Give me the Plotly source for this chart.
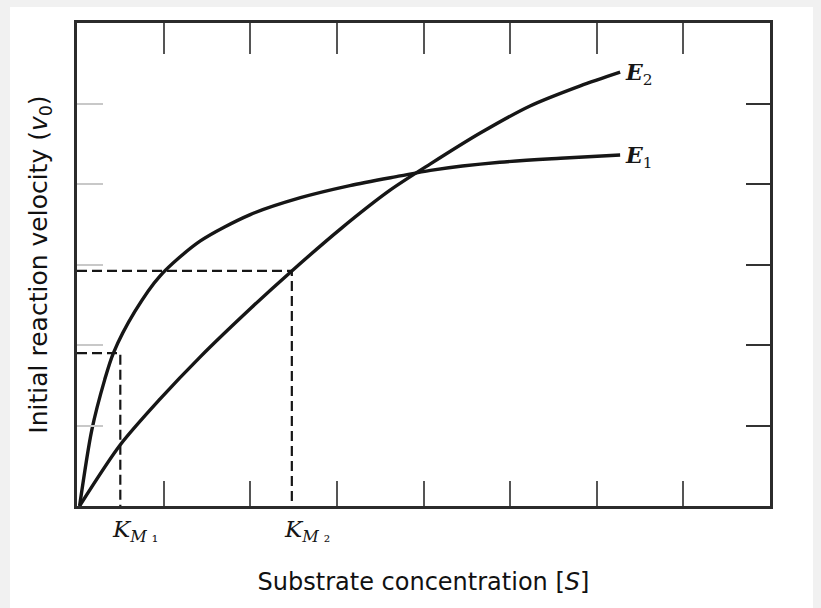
import plotly.graph_objects as go

# Substrate concentration [S] (arbitrary units) and velocities
s_e1 = [0.03, 0.17, 0.32, 0.42, 0.67, 0.96, 1.42, 2.0, 2.58, 3.15, 3.73, 4.08, 4.88, 5.58, 6.27]
v_e1 = [0.0, 0.94, 1.57, 1.90, 2.42, 2.86, 3.29, 3.62, 3.83, 3.98, 4.10, 4.17, 4.27, 4.32, 4.36]

s_e2 = [0.03, 0.50, 0.96, 1.42, 2.0, 2.48, 3.04, 3.61, 4.08, 4.65, 5.23, 5.81, 6.27]
v_e2 = [0.0, 0.76, 1.33, 1.85, 2.45, 2.92, 3.44, 3.92, 4.25, 4.63, 4.97, 5.22, 5.39]

km_values = [0.50, 2.48]
half_v = [1.90, 2.92]
km_labels = ["<i>K</i><sub><i>M</i> ₁</sub>", "<i>K</i><sub><i>M</i> ₂</sub>"]
curve_labels = ["<b><i>E</i></b><sub>1</sub>", "<b><i>E</i></b><sub>2</sub>"]

x_ticks = [1, 2, 3, 4, 5, 6, 7]
y_ticks = [1, 2, 3, 4, 5]
x_range = [0, 8]
y_range = [0, 6]

ink = "#161616"
fig = go.Figure()

# dashed guide lines
for km, hv in zip(km_values, half_v):
    fig.add_trace(go.Scatter(x=[0, km, km], y=[hv, hv, 0], mode="lines",
                             line=dict(color=ink, width=2.2, dash="10px,5px"),
                             hoverinfo="skip", showlegend=False))

fig.add_trace(go.Scatter(x=s_e1, y=v_e1, mode="lines",
                         line=dict(color=ink, width=3.4, shape="spline", smoothing=0.8),
                         showlegend=False))
fig.add_trace(go.Scatter(x=s_e2, y=v_e2, mode="lines",
                         line=dict(color=ink, width=3.4, shape="spline", smoothing=0.8),
                         showlegend=False))
# empty trace so the mirrored top/right axes are drawn
fig.add_trace(go.Scatter(x=[None], y=[None], xaxis="x2", yaxis="y2", mode="lines",
                         showlegend=False, hoverinfo="skip"))

# curve labels
for lab, xs, ys in [(curve_labels[0], s_e1, v_e1), (curve_labels[1], s_e2, v_e2)]:
    fig.add_annotation(x=xs[-1], y=ys[-1], text=lab, showarrow=False, xanchor="left",
                       xshift=3, yshift=-2,
                       font=dict(family="DejaVu Serif", size=22, color=ink))

# K_M labels
for km, lab in zip(km_values, km_labels):
    fig.add_annotation(x=km, xref="x", y=0, yref="paper", text=lab, showarrow=False,
                       xanchor="left", xshift=-10, yanchor="top", yshift=-8,
                       font=dict(family="DejaVu Serif", size=23, color=ink))

axis_common = dict(showgrid=False, zeroline=False, showline=True, linecolor="#2b2b2b",
                   linewidth=2.5, ticks="inside", showticklabels=False, tickwidth=2,
                   automargin=False)

fig.update_layout(
    width=821, height=608,
    margin=dict(l=77, r=51, t=23, b=102),
    paper_bgcolor="#f1f1f1", plot_bgcolor="white",
    xaxis=dict(range=x_range, tickvals=x_ticks, ticklen=25, tickcolor="#555", **axis_common,
               title=dict(text="Substrate concentration [<i>S</i>]", standoff=66,
                          font=dict(family="DejaVu Sans", size=24, color="#111"))),
    xaxis2=dict(range=x_range, tickvals=x_ticks, ticklen=31, tickcolor="#555", overlaying="x",
                side="top", **axis_common),
    yaxis=dict(range=y_range, tickvals=y_ticks, ticklen=26, tickcolor="#c8c8c8", **axis_common,
               title=dict(text="Initial reaction velocity (<i>v</i><sub>0</sub>)", standoff=20,
                          font=dict(family="DejaVu Sans", size=25, color="#111"))),
    yaxis2=dict(range=y_range, tickvals=y_ticks, ticklen=24, tickcolor="#333", overlaying="y",
                side="right", **axis_common),
    font=dict(family="DejaVu Sans"),
)

# white page area
fig.add_shape(type="rect", xref="paper", yref="paper", layer="below",
              x0=(10 - 77) / 693, x1=(813 - 77) / 693, y0=(506 - 608) / 483, y1=(506 - 7) / 483,
              fillcolor="white", line=dict(width=0))

fig.write_html("out.html", config={"displayModeBar": False},
               post_script="document.body.style.margin='0';")
